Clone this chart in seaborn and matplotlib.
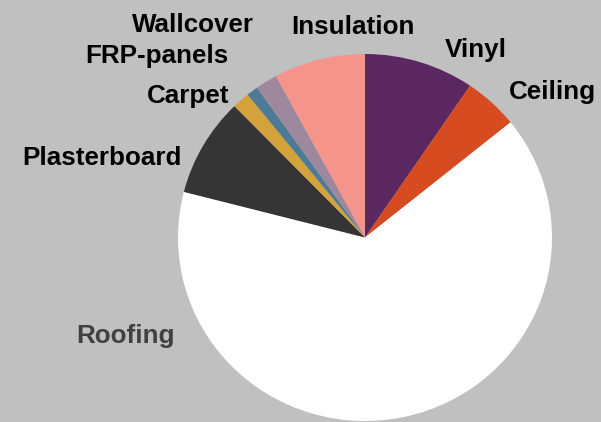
import matplotlib
matplotlib.use("Agg")
import matplotlib.pyplot as plt
import seaborn as sns

# Share of material waste by type (%)
materials = ["Vinyl", "Ceiling", "Roofing", "Plasterboard", "Carpet",
             "FRP-panels", "Wallcover", "Insulation"]
shares = [9.5, 4.7, 64.8, 8.7, 1.5, 1.0, 1.9, 7.9]
colors = ["#5B2760", "#D64B1F", "#FFFFFF", "#353535", "#D4A23A",
          "#4D7A94", "#9D889E", "#F4948A"]
label_colors = ["black", "black", "#404040", "black", "black",
                "black", "black", "black"]

# label anchor points in pixels (x, baseline y from top)
label_pos = [(475.5, 56.5), (552.5, 99), (126, 342.5), (102, 165),
             (188, 103.5), (157, 63.5), (193, 31.5), (352.5, 34)]

sns.set_theme(style="white")
plt.rcParams["font.family"] = ["Liberation Sans", "DejaVu Sans"]

W, H = 601, 422
# pie is slightly squashed vertically in the original (187 px wide, 183.5 px tall radius)
rx, ry = 187, 183.5
s = rx / ry

fig = plt.figure(figsize=(W / 100, H / 100), dpi=100, facecolor="#C0C0C0")
ax = fig.add_axes([0, 0, 1, 1])
ax.set_facecolor("#C0C0C0")

cx, cy = 365, (H - 237.5) * s
ax.pie(shares, colors=colors, startangle=90, counterclock=False,
       center=(cx, cy), radius=rx, wedgeprops=dict(linewidth=0))

for name, (x, y), c in zip(materials, label_pos, label_colors):
    ax.text(x, (H - y) * s, name, ha="center", va="baseline", fontsize=18.7,
            fontweight="bold", color=c)

ax.set_aspect("auto")
ax.set_xlim(0, W)
ax.set_ylim(0, H * s)
ax.axis("off")

fig.savefig("out.png", dpi=100, facecolor=fig.get_facecolor())
